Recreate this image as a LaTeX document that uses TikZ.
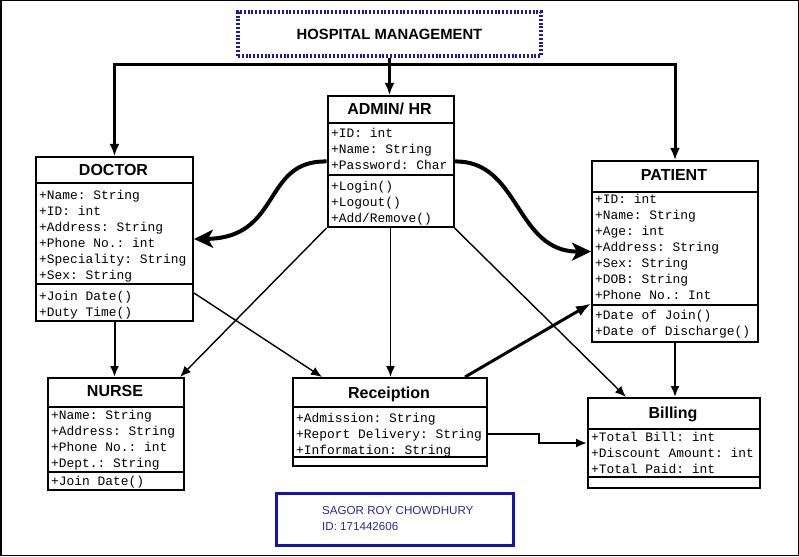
\documentclass[tikz,border=0pt]{standalone}
\usepackage{fontspec}
\setmainfont{Liberation Sans}
\setmonofont{Liberation Mono}
\usetikzlibrary{arrows.meta}
\definecolor{titleblue}{HTML}{1A1AA6}
\definecolor{nameblue}{HTML}{1414B4}
\definecolor{nametext}{HTML}{2A2A8C}
\tikzset{
  cls/.style={draw, line width=2pt, anchor=north west, inner sep=0pt, fill=white},
  hdr/.style={font=\bfseries\fontsize{16}{18}\selectfont, inner sep=0pt, text height=11.5pt, text depth=0pt},
  mem/.style={font=\ttfamily\fontsize{12.9}{15}\selectfont, anchor=west, inner sep=0pt, text height=8.3pt, text depth=0pt},
  divline/.style={line width=2pt},
  bus/.style={line width=3pt, -{Latex[length=12pt,width=10pt]}},
  thin/.style={line width=1.4pt, -{Latex[length=11pt,width=9pt]}},
  mid/.style={line width=2pt, -{Latex[length=11pt,width=9pt]}},
  thick/.style={line width=3pt, -{Latex[length=15pt,width=11pt]}},
  curvy/.style={line width=4pt, -{Stealth[length=19pt,width=18pt,inset=5pt]}},
  nametxt/.style={font=\fontsize{11.6}{13}\selectfont, text=nametext, anchor=west, inner sep=0pt, text height=8.3pt, text depth=0pt}
}
\newcommand{\memberlist}[5]{%
  \foreach \t [count=\i] in {#5} {\node[mem] (#1\i) at (#2,{#3+#4*(\i-1)}) {\t};}}
\begin{document}
\begin{tikzpicture}[x=1pt,y=-1pt]
\fill[white] (0,0) rectangle (799,556);
\useasboundingbox (0,0) rectangle (799,556);
\draw[line width=1.5pt] (0.75,0.75) rectangle (798.25,555.25);

% title
\node[draw=titleblue, line width=3.5pt, dash pattern=on 2pt off 1.8pt, minimum width=303pt, minimum height=44pt, inner sep=0pt,
      font=\bfseries\fontsize{14.8}{16}\selectfont, text height=10.6pt, text depth=0pt] (title) at (389.5,34) {HOSPITAL MANAGEMENT};

% ADMIN / HR
\node[cls, minimum width=126pt, minimum height=131pt] (admin) at (326.5,95) {};
\node[hdr] (adminT) at (389.5,109) {ADMIN/ HR};
\draw[divline] (admin.west |- 0,123) -- (admin.east |- 0,123);
\draw[divline] (admin.west |- 0,175) -- (admin.east |- 0,175);
\memberlist{adA}{331}{133}{16}{+ID: int,+Name: String,+Password: Char}
\memberlist{adM}{331}{186}{16}{+Login(),+Logout(),+Add/Remove()}

% DOCTOR
\node[cls, minimum width=157pt, minimum height=164pt] (doctor) at (35,156) {};
\node[hdr] (doctorT) at (113.5,170) {DOCTOR};
\draw[divline] (doctor.west |- 0,183) -- (doctor.east |- 0,183);
\draw[divline] (doctor.west |- 0,284) -- (doctor.east |- 0,284);
\memberlist{drA}{39}{195}{16}{+Name: String,+ID: int,+Address: String,+Phone No.: int,+Speciality: String,+Sex: String}
\memberlist{drM}{39}{296}{16}{+Join Date(),+Duty Time()}

% PATIENT
\node[cls, minimum width=166pt, minimum height=181pt] (patient) at (591,160) {};
\node[hdr] (patientT) at (674,175) {PATIENT};
\draw[divline] (patient.west |- 0,192) -- (patient.east |- 0,192);
\draw[divline] (patient.west |- 0,305) -- (patient.east |- 0,305);
\memberlist{paA}{595}{199}{16}{+ID: int,+Name: String,+Age: int,+Address: String,+Sex: String,+DOB: String,+Phone No.: Int}
\memberlist{paM}{595}{315}{16}{+Date of Join(),+Date of Discharge()}

% NURSE
\node[cls, minimum width=136pt, minimum height=112pt] (nurse) at (47,377) {};
\node[hdr] (nurseT) at (115,391) {NURSE};
\draw[divline] (nurse.west |- 0,407) -- (nurse.east |- 0,407);
\draw[divline] (nurse.west |- 0,472) -- (nurse.east |- 0,472);
\memberlist{nuA}{51}{415}{16}{+Name: String,+Address: String,+Phone No.: int,+Dept.: String}
\memberlist{nuM}{51}{481}{16}{+Join Date()}

% Receiption
\node[cls, minimum width=194pt, minimum height=88pt] (recep) at (292,377) {};
\node[hdr] (recepT) at (389,393) {Receiption};
\draw[divline] (recep.west |- 0,407) -- (recep.east |- 0,407);
\draw[divline] (recep.west |- 0,457) -- (recep.east |- 0,457);
\memberlist{reA}{296}{418}{16}{+Admission: String,+Report Delivery: String,+Information: String}

% Billing
\node[cls, minimum width=172pt, minimum height=90pt] (billing) at (587,397) {};
\node[hdr] (billingT) at (673,413) {Billing};
\draw[divline] (billing.west |- 0,429) -- (billing.east |- 0,429);
\draw[divline] (billing.west |- 0,477) -- (billing.east |- 0,477);
\memberlist{biA}{591}{437}{16}{+Total Bill: int,+Discount Amount: int,+Total Paid: int}

% name box
\node[draw=nameblue, line width=2.5pt, minimum width=237pt, minimum height=52pt, anchor=north west, inner sep=0pt] (namebox) at (275,492) {};
\node[nametxt] (nameA) at (322,510) {SAGOR ROY CHOWDHURY};
\node[nametxt] (nameB) at (322,526) {ID: 171442606};

% connectors from title
\draw[bus] (title.south) -- (title.south |- admin.north);
\draw[bus, -] (title.south) -- ++(0,7);
\draw[bus] (title.south) ++(0,7) -| (doctor.north);
\draw[bus] (title.south) ++(0,7) -| (patient.north);

% curves
\draw[curvy] (admin.west) .. controls (262,160) and (282,238) .. (doctor.east);
\draw[curvy] (admin.east) .. controls (520,160) and (515,252) .. (patient.west);

% thin connectors
\draw[thin] (admin.south west) -- ([xshift=-5pt]nurse.north east);
\draw[thin] (admin.south) -- (admin.south |- recep.north);
\draw[thin] (admin.south east) -- ([xshift=39pt]billing.north west);
\draw[thin] ([yshift=-54pt]doctor.east) -- ([xshift=30pt]recep.north west);
\draw[mid] (doctor.south) -- (doctor.south |- nurse.north);
\draw[mid] (patient.south) -- (patient.south |- billing.north);
\draw[thick] ([xshift=-23pt]recep.north east) -- ([yshift=-52pt]patient.west);
\draw[mid] ([yshift=-12pt]recep.east) -- ++(51,0) |- (billing.west);
\end{tikzpicture}
\end{document}
